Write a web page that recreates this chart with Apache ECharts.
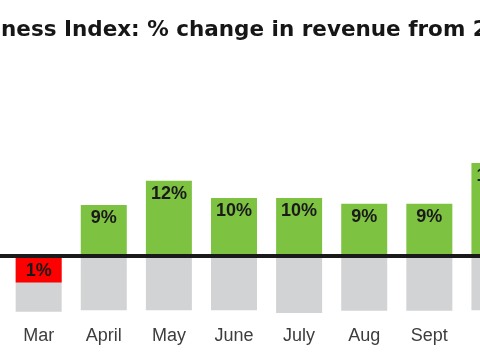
<!DOCTYPE html>
<html>
<head>
<meta charset="utf-8">
<script src="https://cdn.jsdelivr.net/npm/echarts@6/dist/echarts.min.js"></script>
<style>html,body{margin:0;padding:0;background:#fff}#c{width:480px;height:360px}</style>
</head>
<body>
<div id="c"></div>
<script>
// Visible window of the chart: one empty leading slot, then Mar .. Oct
var categories = ['', 'Mar', 'April', 'May', 'June', 'July', 'Aug', 'Sept', 'Oct'];
// Printed % change labels
var labelValues = [null, -1, 9, 12, 10, 10, 9, 9, 16];
// Bar lengths as drawn in the picture (% units)
var barLengths = [null, -4.7, 8.8, 13.0, 10.0, 10.0, 9.0, 9.0, 16.1];
// Grey bars below the zero line
var greyLengths = [null, -9.8, -9.5, -9.5, -9.5, -10.0, -9.6, -9.6, -9.5];
var titleText = 'ness Index: % change in revenue from 2';

var chart = echarts.init(document.getElementById('c'), null, {renderer: 'canvas'});
var mainData = barLengths.map(function (v, i) {
  if (v === null) return null;
  return {
    value: v,
    itemStyle: {color: v < 0 ? '#FF0000' : '#7EC242'},
    label: v < 0 ? {position: 'inside', offset: [0, 2]} : {position: 'insideTop', distance: 4}
  };
});
chart.setOption({
  animation: false,
  title: {
    text: titleText,
    left: -4,
    top: 14,
    textStyle: {fontFamily: 'DejaVu Sans', fontWeight: 'bold', fontSize: 21.5, color: '#161616'}
  },
  grid: {left: -59, top: 152, width: 586, height: 172.5, containLabel: false, outerBoundsMode: 'none'},
  xAxis: {
    type: 'category',
    data: categories,
    z: 10,
    axisLine: {onZero: true, lineStyle: {color: '#1a1a1a', width: 4}},
    axisTick: {show: false},
    axisLabel: {margin: 3, fontFamily: 'Liberation Sans', fontSize: 18, color: '#3d3d3d', interval: 0, hideOverlap: false}
  },
  yAxis: {
    type: 'value',
    min: -12,
    max: 18,
    show: false,
    splitLine: {show: false}
  },
  series: [
    {
      type: 'bar',
      name: 'grey',
      data: greyLengths,
      barWidth: 46,
      itemStyle: {color: '#D2D3D5'},
      silent: true
    },
    {
      type: 'bar',
      name: 'change',
      data: mainData,
      barWidth: 46,
      barGap: '-100%',
      label: {
        show: true,
        fontFamily: 'Liberation Sans',
        fontWeight: 'bold',
        fontSize: 18,
        color: '#1a1a1a',
        formatter: function (p) {
          var v = labelValues[p.dataIndex];
          return v === null ? '' : Math.abs(v) + '%';
        }
      }
    }
  ]
});
</script>
</body>
</html>
